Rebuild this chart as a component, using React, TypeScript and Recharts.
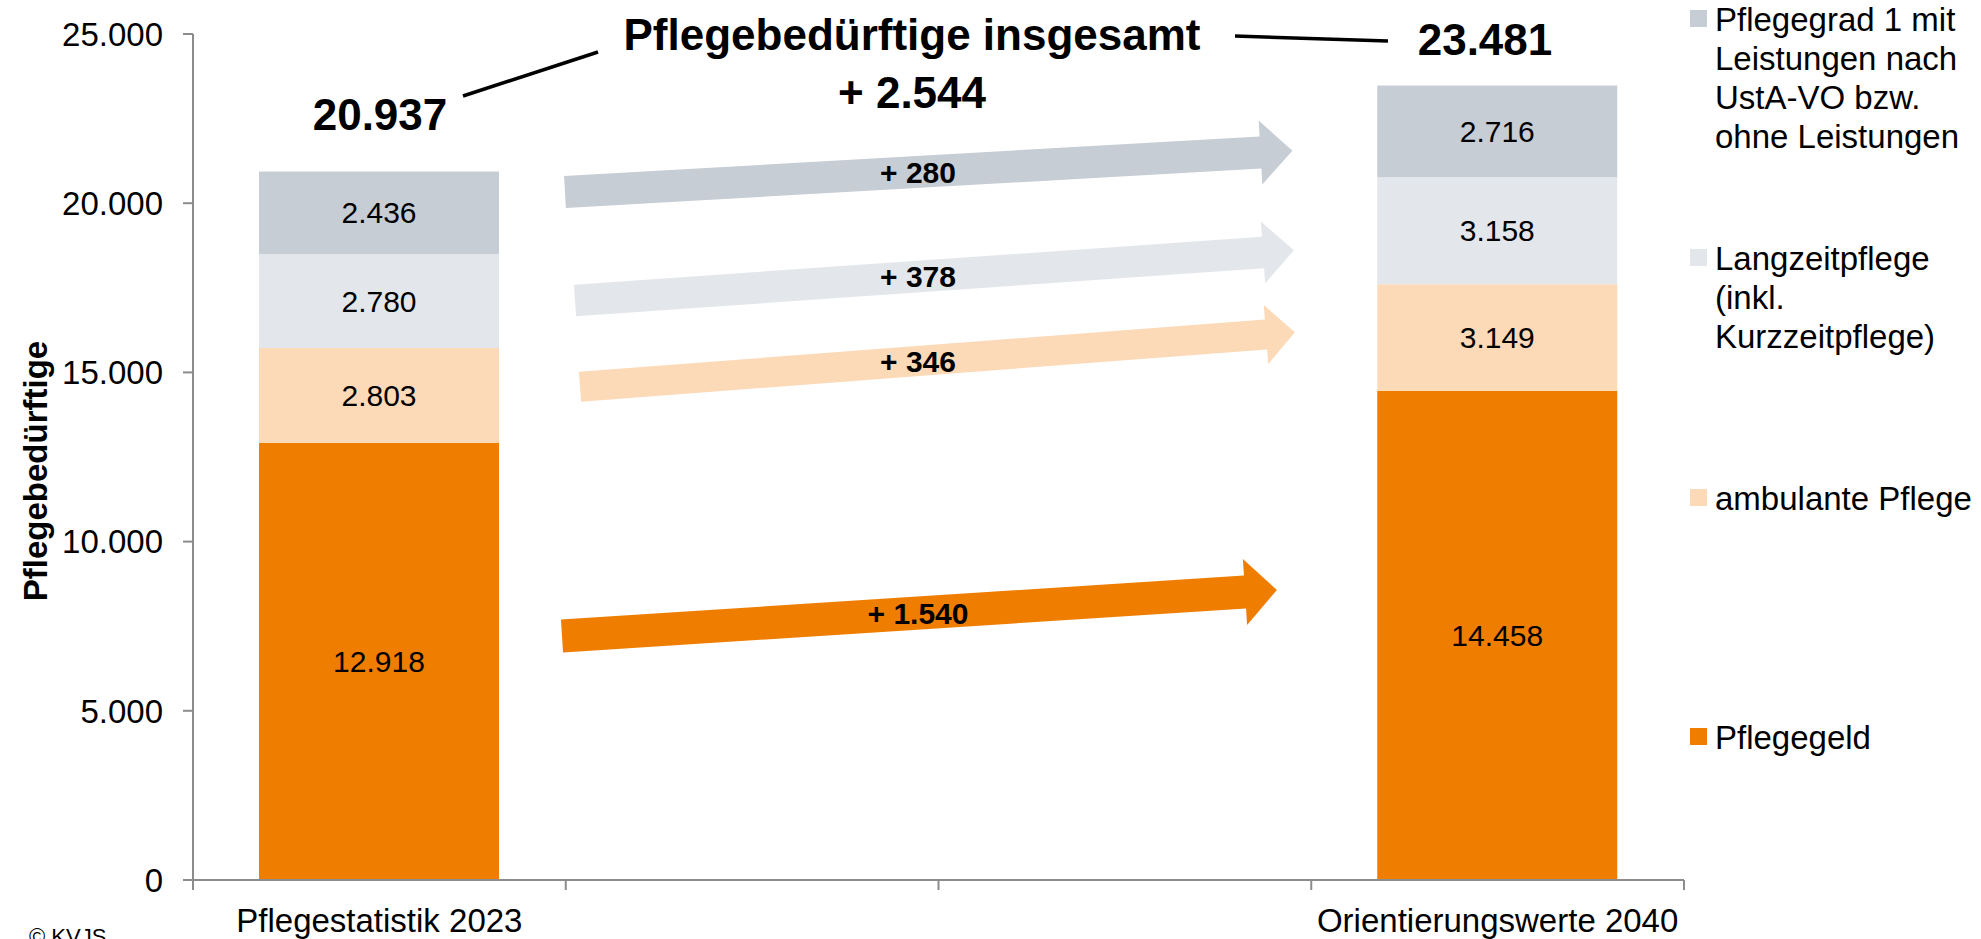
import React from 'react';
import { BarChart, Bar, XAxis, YAxis, Legend, LabelList } from 'recharts';

// ---------- data ----------
const categories = ['Pflegestatistik 2023', '', '', 'Orientierungswerte 2040'];
const pflegegeld = [12918, null, null, 14458];
const ambulantePflege = [2803, null, null, 3149];
const langzeitpflege = [2780, null, null, 3158];
const pflegegrad1 = [2436, null, null, 2716];
const yTicks = [0, 5000, 10000, 15000, 20000, 25000];

const seriesNames = {
  pflegegeld: 'Pflegegeld',
  ambulant: 'ambulante Pflege',
  langzeit: 'Langzeitpflege (inkl. Kurzzeitpflege)',
  grad1: 'Pflegegrad 1 mit Leistungen nach UstA-VO bzw. ohne Leistungen',
};
const legendLines: Record<string, string[]> = {
  grad1: ['Pflegegrad 1 mit', 'Leistungen nach', 'UstA-VO bzw.', 'ohne Leistungen'],
  langzeit: ['Langzeitpflege', '(inkl.', 'Kurzzeitpflege)'],
  ambulant: ['ambulante Pflege'],
  pflegegeld: ['Pflegegeld'],
};
const titleLines = ['Pflegebedürftige insgesamt'];
const yAxisTitle = 'Pflegebedürftige';
const copyright = '© KVJS';

// ---------- styles / layout ----------
const FONT = '"Liberation Sans", Arial, sans-serif';
const COLORS = {
  pflegegeld: '#EF7D00',
  ambulant: '#FCDAB8',
  langzeit: '#E3E6EB',
  grad1: '#C7CDD5',
};
const AXIS = '#8c8c8c';
const W = 1981;
const H = 939;
const PLOT_LEFT = 193;
const PLOT_RIGHT = 1684;
const PLOT_TOP = 34;
const PLOT_BOTTOM = 880;
const Y_MAX = 25000;
const BAND = (PLOT_RIGHT - PLOT_LEFT) / categories.length;

const fmt = (n: number) => String(n).replace(/\B(?=(\d{3})+(?!\d))/g, '.');

const data = categories.map((c, i) => ({
  idx: i,
  pflegegeld: pflegegeld[i],
  ambulant: ambulantePflege[i],
  langzeit: langzeitpflege[i],
  grad1: pflegegrad1[i],
}));

const total = (i: number) =>
  (pflegegeld[i] || 0) + (ambulantePflege[i] || 0) + (langzeitpflege[i] || 0) + (pflegegrad1[i] || 0);

// arrow annotations (geometry in px, labels from data differences)
const arrows = [
  { key: 'grad1', from: [565, 192], to: [1260.5, 152.5], half: 16, head: 32, len: 32, diff: pflegegrad1[3]! - pflegegrad1[0]! },
  { key: 'langzeit', from: [575, 300.5], to: [1263, 252.5], half: 15.8, head: 31, len: 31, diff: langzeitpflege[3]! - langzeitpflege[0]! },
  { key: 'ambulant', from: [580, 386.7], to: [1266, 334.5], half: 15, head: 29.7, len: 29, diff: ambulantePflege[3]! - ambulantePflege[0]! },
  { key: 'pflegegeld', from: [562, 636], to: [1245, 592], half: 16.5, head: 33, len: 32, diff: pflegegeld[3]! - pflegegeld[0]! },
];
const ARROW_LABEL_X = 918;

function arrowPoints(a: typeof arrows[number]) {
  const [x0, y0] = a.from;
  const [x1, y1] = a.to;
  const dx = x1 - x0, dy = y1 - y0;
  const L = Math.hypot(dx, dy);
  const ux = dx / L, uy = dy / L;
  const px = -uy, py = ux;
  const pts = [
    [x0 - px * a.half, y0 - py * a.half],
    [x1 - px * a.half, y1 - py * a.half],
    [x1 - px * a.head, y1 - py * a.head],
    [x1 + ux * a.len, y1 + uy * a.len],
    [x1 + px * a.head, y1 + py * a.head],
    [x1 + px * a.half, y1 + py * a.half],
    [x0 + px * a.half, y0 + py * a.half],
  ];
  return pts.map((p) => p.join(',')).join(' ');
}

const CatTick = (props: any) => {
  const { x, payload, index } = props;
  const label = categories[Number(payload.value)] ?? '';
  const last = index === categories.length - 1;
  return (
    <g>
      <line x1={x - BAND / 2} x2={x - BAND / 2} y1={PLOT_BOTTOM} y2={PLOT_BOTTOM + 10} stroke={AXIS} strokeWidth={2} />
      {last && (
        <line x1={x + BAND / 2} x2={x + BAND / 2} y1={PLOT_BOTTOM} y2={PLOT_BOTTOM + 10} stroke={AXIS} strokeWidth={2} />
      )}
      <text x={x} y={932} textAnchor="middle" fontSize={33} fontFamily={FONT} fill="#000">
        {label}
      </text>
    </g>
  );
};

const legendTops: Record<string, number> = { grad1: 0, langzeit: 239, ambulant: 479, pflegegeld: 718 };

const renderLegend = (props: any) => {
  const payload = [...(props.payload || [])].reverse();
  return (
    <div style={{ position: 'relative', width: 291, height: H, fontFamily: FONT, fontSize: 33, lineHeight: '39px', color: '#000' }}>
      {payload.map((p: any) => {
        const key = p.dataKey as string;
        return (
          <div key={key} style={{ position: 'absolute', left: 0, top: legendTops[key] }}>
            <div style={{ position: 'absolute', left: 0, top: 10, width: 17, height: 17, background: p.color }} />
            <div style={{ position: 'absolute', left: 25, top: 0, whiteSpace: 'nowrap' }}>
              {(legendLines[key] || [p.value]).map((l, i) => (
                <div key={i}>{l}</div>
              ))}
            </div>
          </div>
        );
      })}
    </div>
  );
};

const segLabel = (v: any) => (v == null ? '' : fmt(Number(v)));

export default function App() {
  const t0 = total(0);
  const t1 = total(3);
  return (
    <div style={{ position: 'absolute', left: 0, top: 0, width: W, height: H, overflow: 'hidden', background: '#fff' }}>
      <BarChart width={W} height={H} data={data} margin={{ top: PLOT_TOP, right: 6, bottom: 0, left: 100 }}>
        <XAxis
          dataKey="idx"
          type="category"
          interval={0}
          height={59}
          tickLine={false}
          axisLine={{ stroke: AXIS, strokeWidth: 2 }}
          tick={<CatTick />}
        />
        <YAxis
          type="number"
          domain={[0, Y_MAX]}
          ticks={yTicks}
          interval={0}
          width={93}
          tickSize={10}
          tickMargin={20}
          tickFormatter={(v: number) => fmt(v)}
          tick={{ fontSize: 33, fill: '#000', fontFamily: FONT }}
          axisLine={{ stroke: AXIS, strokeWidth: 2 }}
          tickLine={{ stroke: AXIS, strokeWidth: 2 }}
        />
        <Legend
          layout="vertical"
          align="right"
          verticalAlign="top"
          wrapperStyle={{ top: 0, left: 1690, width: 291, height: H }}
          content={renderLegend}
        />
        <Bar dataKey="pflegegeld" name={seriesNames.pflegegeld} stackId="a" fill={COLORS.pflegegeld} barSize={240} isAnimationActive={false}>
          <LabelList dataKey="pflegegeld" position="center" formatter={segLabel} fill="#000" fontSize={30} fontFamily={FONT} />
        </Bar>
        <Bar dataKey="ambulant" name={seriesNames.ambulant} stackId="a" fill={COLORS.ambulant} barSize={240} isAnimationActive={false}>
          <LabelList dataKey="ambulant" position="center" formatter={segLabel} fill="#000" fontSize={30} fontFamily={FONT} />
        </Bar>
        <Bar dataKey="langzeit" name={seriesNames.langzeit} stackId="a" fill={COLORS.langzeit} barSize={240} isAnimationActive={false}>
          <LabelList dataKey="langzeit" position="center" formatter={segLabel} fill="#000" fontSize={30} fontFamily={FONT} />
        </Bar>
        <Bar dataKey="grad1" name={seriesNames.grad1} stackId="a" fill={COLORS.grad1} barSize={240} isAnimationActive={false}>
          <LabelList dataKey="grad1" position="center" formatter={segLabel} fill="#000" fontSize={30} fontFamily={FONT} />
        </Bar>
      </BarChart>

      <svg width={W} height={H} style={{ position: 'absolute', left: 0, top: 0, pointerEvents: 'none' }}>
        {arrows.map((a) => {
          const [x0, y0] = a.from;
          const [x1, y1] = a.to;
          const ly = y0 + ((ARROW_LABEL_X - x0) / (x1 - x0)) * (y1 - y0);
          return (
            <g key={a.key}>
              <polygon points={arrowPoints(a)} fill={(COLORS as any)[a.key]} />
              <text x={ARROW_LABEL_X} y={ly} dy="0.36em" textAnchor="middle" fontSize={30} fontWeight="bold" fontFamily={FONT} fill="#000">
                {'+ ' + fmt(a.diff)}
              </text>
            </g>
          );
        })}

        {/* totals */}
        <text x={380} y={130} textAnchor="middle" fontSize={44} fontWeight="bold" fontFamily={FONT} fill="#000">
          {fmt(t0)}
        </text>
        <text x={1485} y={55} textAnchor="middle" fontSize={44} fontWeight="bold" fontFamily={FONT} fill="#000">
          {fmt(t1)}
        </text>

        {/* title */}
        <text x={912} y={50} textAnchor="middle" fontSize={44} fontWeight="bold" fontFamily={FONT} fill="#000">
          {titleLines[0]}
        </text>
        <text x={912} y={108} textAnchor="middle" fontSize={44} fontWeight="bold" fontFamily={FONT} fill="#000">
          {'+ ' + fmt(t1 - t0)}
        </text>

        {/* leader lines */}
        <line x1={463} y1={96} x2={598} y2={52} stroke="#000" strokeWidth={3.5} />
        <line x1={1235} y1={36} x2={1388} y2={41} stroke="#000" strokeWidth={3.5} />

        {/* y-axis title */}
        <text x={47} y={471} transform="rotate(-90, 47, 471)" textAnchor="middle" fontSize={33} fontWeight="bold" fontFamily={FONT} fill="#000">
          {yAxisTitle}
        </text>

        <text x={29} y={944} fontSize={22} fontFamily={FONT} fill="#000">
          {copyright}
        </text>
      </svg>
    </div>
  );
}
